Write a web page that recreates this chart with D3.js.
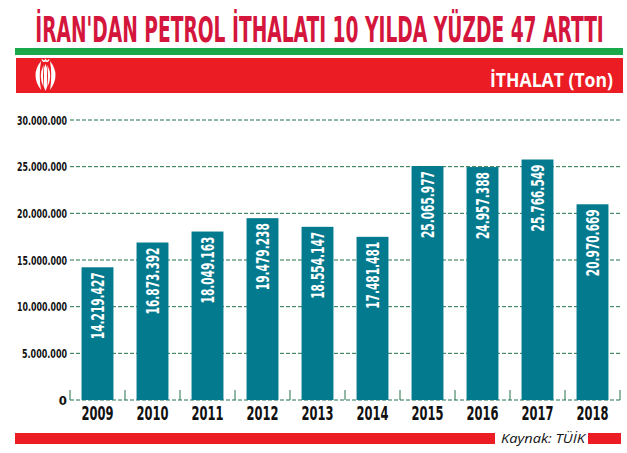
<!DOCTYPE html>
<html>
<head>
<meta charset="utf-8">
<script src="https://cdn.jsdelivr.net/npm/d3@7"></script>
<style>
  html, body { margin: 0; padding: 0; background: #fff; }
  svg { display: block; }
  .cond { font-family: "Liberation Sans Narrow", "DejaVu Sans Condensed", "Roboto", "Liberation Sans", sans-serif; font-stretch: condensed; }
</style>
</head>
<body>
<svg id="chart" width="627" height="453"></svg>
<script>
// ---- Data ----
const years = ["2009","2010","2011","2012","2013","2014","2015","2016","2017","2018"];
const imports = [14219427, 16873392, 18049163, 19479238, 18554147, 17481481, 25065977, 24957388, 25766549, 20970669];
const yTicks = [0, 5000000, 10000000, 15000000, 20000000, 25000000, 30000000];
const titleText = "İRAN'DAN PETROL İTHALATI 10 YILDA YÜZDE 47 ARTTI";
const unitText = "İTHALAT (Ton)";
const sourceText = "Kaynak: TÜİK";

const svg = d3.select("#chart");
const C = { title: "#d4163c", red: "#ec1c24", green: "#1ba84b", bar: "#047a8e", grid: "#23734a" };

const loc = d3.formatLocale({ decimal: ",", thousands: ".", grouping: [3], currency: ["", ""] });
const fmt = loc.format(",d");

// squeeze a text horizontally to a target width via a scale transform
function fit(sel, width) {
  sel.each(function() {
    const w = this.getComputedTextLength();
    if (!w) return;
    const s = width / w;
    const t = this.getAttribute("transform") || "";
    this.setAttribute("transform", (t + ` scale(${s},1)`).trim());
  });
}

// ---- Header ----
const title = svg.append("text").attr("class", "cond")
  .attr("transform", "translate(319.5,42)")
  .attr("text-anchor", "middle")
  .attr("font-size", 35).attr("font-weight", "bold")
  .attr("fill", C.title)
  .text(titleText);
fit(title, 569);

svg.append("rect").attr("x", 15).attr("y", 48).attr("width", 608).attr("height", 7).attr("fill", C.green);
svg.append("rect").attr("x", 16).attr("y", 58).attr("width", 607).attr("height", 35).attr("fill", C.red);

// emblem
const em = svg.append("g").attr("fill", "#fff");
em.append("path").attr("d", "M41 61 Q30 75 41 90 Q38.5 75 41 61 Z");
em.append("path").attr("d", "M50 61 Q61 75 50 90 Q52.5 75 50 61 Z");
em.append("path").attr("d", "M43.6 65 Q38 76 43.6 87 Q42.4 76 43.6 65 Z");
em.append("path").attr("d", "M47.4 65 Q53 76 47.4 87 Q48.6 76 47.4 65 Z");
em.append("path").attr("d", "M45.5 64 L47 68 L47 87 L45.5 91 L44 87 L44 68 Z");
em.append("path").attr("d", "M42 59.5 Q43.7 62.8 45.5 60 Q47.3 62.8 49 59.5")
  .attr("fill", "none").attr("stroke", "#fff").attr("stroke-width", 1.6);

const unit = svg.append("text")
  .attr("transform", "translate(613,87)")
  .attr("text-anchor", "end")
  .attr("font-family", "'Open Sans', 'Liberation Sans', sans-serif")
  .attr("font-size", 20).attr("font-weight", "bold")
  .attr("fill", "#fff")
  .text(unitText);
fit(unit, 123);

// ---- Scales ----
const x = d3.scaleBand().domain(years).range([70, 620]).paddingInner(0.42).paddingOuter(0.21);
const y = d3.scaleLinear().domain([0, 30000000]).range([400, 120]);

// grid lines
svg.append("g").selectAll("line").data(yTicks).join("line")
  .attr("x1", 70).attr("x2", 620)
  .attr("y1", d => y(d)).attr("y2", d => y(d))
  .attr("stroke", C.grid).attr("stroke-width", 1)
  .attr("stroke-dasharray", "4,2");

// y axis labels
const yAxis = svg.append("g").attr("transform", "translate(70,0)")
  .call(d3.axisLeft(y).tickValues(yTicks).tickFormat(fmt).tickSize(0).tickPadding(3));
yAxis.select(".domain").remove();
yAxis.selectAll("text")
  .attr("class", "cond")
  .attr("font-size", 13).attr("font-weight", "bold").attr("fill", "#111")
  .attr("x", 0)
  .attr("transform", "translate(-3,0)")
  .each(function(d) {
    const s = fmt(d);
    if (s.length > 1) fit(d3.select(this), s.length * 5);
  });

// bars
svg.append("g").selectAll("rect").data(years).join("rect")
  .attr("x", d => x(d)).attr("width", x.bandwidth())
  .attr("y", (d, i) => y(imports[i]))
  .attr("height", (d, i) => y(0) - y(imports[i]))
  .attr("fill", C.bar);

// value labels
const vals = svg.append("g").selectAll("text").data(years).join("text")
  .attr("class", "cond")
  .attr("transform", (d, i) => `translate(${x(d) + x.bandwidth() / 2},${y(imports[i]) + 5}) rotate(-90)`)
  .attr("text-anchor", "end")
  .attr("dy", "0.36em")
  .attr("font-size", 17).attr("font-weight", "bold").attr("fill", "#fff")
  .text((d, i) => fmt(imports[i]));
fit(vals, 67);

// x tick marks at band boundaries
const bounds = years.map(d => x(d) - x.step() * x.paddingInner() / 2).concat([620]);
svg.append("g").selectAll("line").data(bounds).join("line")
  .attr("x1", d => d).attr("x2", d => d)
  .attr("y1", 390).attr("y2", 400)
  .attr("stroke", C.grid).attr("stroke-width", 1);

// x axis labels
const xAxis = svg.append("g").attr("transform", "translate(0,400)")
  .call(d3.axisBottom(x).tickSize(0).tickPadding(7));
xAxis.select(".domain").remove();
const xl = xAxis.selectAll("text")
  .attr("class", "cond")
  .attr("font-size", 19).attr("font-weight", "bold").attr("fill", "#111");
fit(xl, 32);

// ---- Footer ----
svg.append("rect").attr("x", 15).attr("y", 433).attr("width", 480).attr("height", 11).attr("fill", C.red);
svg.append("rect").attr("x", 588).attr("y", 433).attr("width", 33).attr("height", 11).attr("fill", C.red);
const src = svg.append("text")
  .attr("transform", "translate(501,443)")
  .attr("font-family", "'Open Sans', 'Liberation Sans', sans-serif")
  .attr("font-size", 13.5).attr("font-style", "italic").attr("fill", "#111")
  .text(sourceText);
fit(src, 84);
</script>
</body>
</html>
